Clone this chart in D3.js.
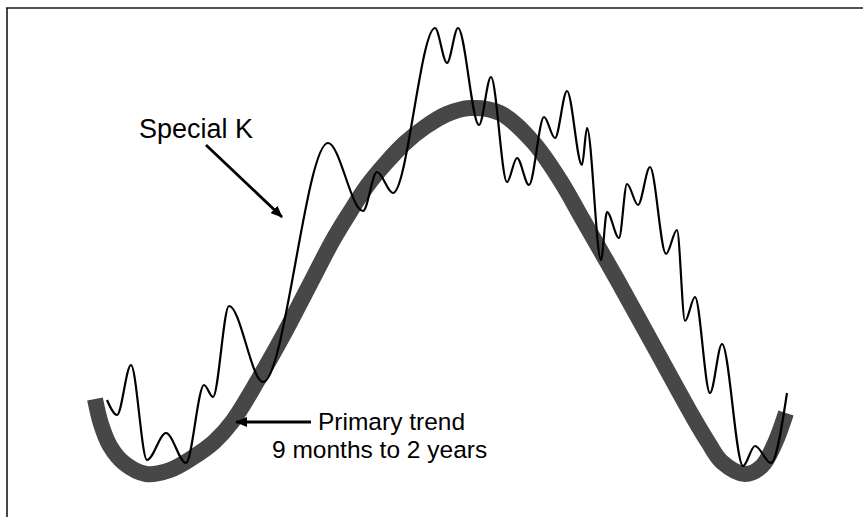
<!DOCTYPE html>
<html>
<head>
<meta charset="utf-8">
<script src="https://cdn.jsdelivr.net/npm/d3@7"></script>
<style>
  html, body { margin: 0; padding: 0; background: #fff; }
  svg { display: block; }
  text { font-family: "Liberation Sans", Arial, sans-serif; }
</style>
</head>
<body>
<svg id="chart" width="863" height="517"></svg>
<script>
// ---- Data (time index, price level) ----
// Primary trend (thick grey wave)
const trendT = [88, 94, 103, 117, 139, 163, 185, 207, 225, 251, 278, 303, 326, 343, 360, 378, 398, 418, 440, 463, 493, 526, 553, 576, 612, 649, 686, 701, 715, 738, 755, 768, 779];
const trendV = [118, 93, 71, 54, 43, 47, 59, 75, 95, 137, 185, 233, 277, 305, 331, 353, 374, 390, 403, 409, 404, 375, 337, 297, 234, 167, 100, 75, 55, 43, 51, 74, 104];

// Special K (thin black oscillating line)
const kT = [100, 110, 124, 140, 159, 179, 197, 206, 222, 256, 321, 356, 370, 386, 428, 440, 451, 472, 484, 500, 510, 522, 537, 548, 560, 575, 580, 594, 600, 612, 620, 631, 643, 659, 670, 678, 688, 703, 715, 736, 748, 764, 780];
const kV = [117, 102, 152, 57, 84, 54, 132, 120, 211, 135, 374, 306, 345, 324, 489, 454, 489, 392, 440, 335, 359, 332, 400, 379, 426, 352, 389, 257, 305, 279, 333, 312, 350, 263, 287, 196, 220, 124, 173, 51, 71, 54, 124];

// Annotation labels
const labelSpecialK = "Special K";
const labelPrimary = ["Primary trend", "9 months to 2 years"];

// ---- Layout ----
const W = 863, H = 517;
const svg = d3.select("#chart");
const frameLeft = 7, frameTop = 8;

const x = d3.scaleLinear().domain([0, 856]).range([frameLeft, W]);
const y = d3.scaleLinear().domain([0, 509]).range([H, frameTop]);

// frame (top and left rules)
svg.append("line")
  .attr("x1", frameLeft - 1).attr("x2", W)
  .attr("y1", frameTop).attr("y2", frameTop)
  .attr("stroke", "#1a1a1a").attr("stroke-width", 1.6);
svg.append("line")
  .attr("x1", frameLeft).attr("x2", frameLeft)
  .attr("y1", frameTop).attr("y2", H)
  .attr("stroke", "#1a1a1a").attr("stroke-width", 1.6);

// arrow marker
const defs = svg.append("defs");
defs.append("marker")
  .attr("id", "arrow")
  .attr("markerUnits", "userSpaceOnUse")
  .attr("viewBox", "0 0 12 10")
  .attr("refX", 11).attr("refY", 5)
  .attr("markerWidth", 12).attr("markerHeight", 10)
  .attr("orient", "auto")
  .append("path")
  .attr("d", "M0,0 L12,5 L0,10 Z")
  .attr("fill", "#000");

// primary trend
const trendData = trendT.map((t, i) => [t, trendV[i]]);
const trendLine = d3.line()
  .x(d => x(d[0])).y(d => y(d[1]))
  .curve(d3.curveCatmullRom.alpha(0.5));
svg.append("path")
  .datum(trendData)
  .attr("d", trendLine)
  .attr("fill", "none")
  .attr("stroke", "#474747")
  .attr("stroke-width", 16)
  .attr("stroke-linecap", "butt")
  .attr("stroke-linejoin", "round");

// Special K
const kData = kT.map((t, i) => [t, kV[i]]);
const kLine = d3.line()
  .x(d => x(d[0])).y(d => y(d[1]))
  .curve(d3.curveMonotoneX);
svg.append("path")
  .datum(kData)
  .attr("d", kLine)
  .attr("fill", "none")
  .attr("stroke", "#000")
  .attr("stroke-width", 2.2)
  .attr("stroke-linejoin", "round");

// Annotations
svg.append("text")
  .attr("x", 139).attr("y", 138)
  .attr("font-size", 27)
  .attr("fill", "#000")
  .text(labelSpecialK);

svg.append("line")
  .attr("x1", 206).attr("y1", 145)
  .attr("x2", 282).attr("y2", 217)
  .attr("stroke", "#000").attr("stroke-width", 2.8)
  .attr("marker-end", "url(#arrow)");

svg.append("text")
  .attr("x", 318).attr("y", 430)
  .attr("font-size", 24.5)
  .attr("fill", "#000")
  .text(labelPrimary[0]);
svg.append("text")
  .attr("x", 272).attr("y", 458)
  .attr("font-size", 24.5)
  .attr("fill", "#000")
  .text(labelPrimary[1]);

svg.append("line")
  .attr("x1", 311).attr("y1", 422)
  .attr("x2", 236).attr("y2", 422)
  .attr("stroke", "#000").attr("stroke-width", 2.8)
  .attr("marker-end", "url(#arrow)");
</script>
</body>
</html>
